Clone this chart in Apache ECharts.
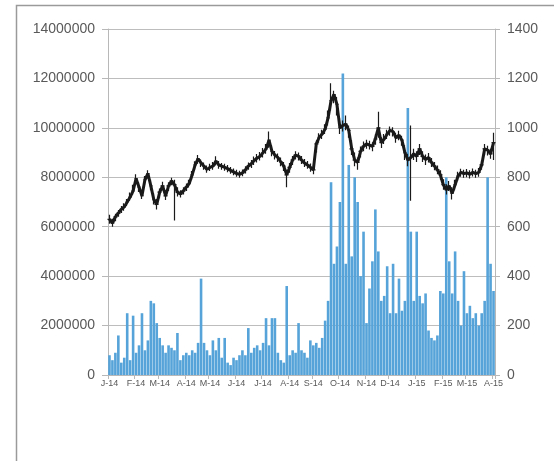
<!DOCTYPE html>
<html>
<head>
<meta charset="utf-8">
<script src="https://cdn.jsdelivr.net/npm/echarts@6/dist/echarts.min.js"></script>
<style>
  html, body { margin: 0; padding: 0; background: #fff; }
  #chart { width: 554px; height: 461px; }
</style>
</head>
<body>
<div id="chart"></div>
<script>
// two samples a week, Jan 2014 - Apr 2015
var volume = [
    800000, 600000, 900000, 1600000, 500000, 700000, 2500000, 600000, 2400000, 900000,
    1200000, 2500000, 1000000, 1400000, 3000000, 2900000, 2100000, 1500000, 1200000, 900000,
    1200000, 1100000, 1000000, 1700000, 600000, 800000, 900000, 800000, 1000000, 900000,
    1300000, 3900000, 1300000, 1000000, 800000, 1400000, 1000000, 1500000, 700000, 1500000,
    500000, 400000, 700000, 600000, 800000, 1000000, 800000, 1900000, 900000, 1100000,
    1200000, 1000000, 1300000, 2300000, 1200000, 2300000, 2300000, 900000, 600000, 500000,
    3600000, 800000, 1000000, 900000, 2100000, 1000000, 900000, 700000, 1400000, 1200000,
    1300000, 1100000, 1500000, 2200000, 3000000, 7800000, 4500000, 5200000, 7000000, 12200000,
    4500000, 8500000, 4800000, 8000000, 7000000, 4000000, 5800000, 2100000, 3500000, 4600000,
    6700000, 5000000, 3000000, 3200000, 4400000, 2500000, 4500000, 2500000, 3900000, 2600000,
    3000000, 10800000, 5800000, 3000000, 5800000, 3200000, 2900000, 3300000, 1800000, 1500000,
    1400000, 1600000, 3400000, 3300000, 8000000, 4600000, 3300000, 5000000, 3000000, 2000000,
    4200000, 2500000, 2800000, 2300000, 2500000, 2000000, 2500000, 3000000, 8000000, 4500000,
    3400000
];

var close = [
    630, 615, 640, 655, 670, 680, 700, 720, 745, 795,
    760, 725, 790, 815, 765, 710, 690, 740, 765, 725,
    765, 785, 770, 740, 732, 745, 760, 775, 810, 850,
    875, 858, 845, 832, 840, 845, 865, 850, 845, 840,
    835, 828, 822, 815, 812, 818, 830, 845, 855, 868,
    878, 885, 900, 915, 950, 905, 890, 880, 862, 845,
    810, 840, 870, 890, 885, 870, 858, 850, 840, 830,
    935, 962, 975, 995, 1040, 1110, 1135, 1095, 1000, 1010,
    1015, 990, 915, 870, 860, 905, 925, 935, 930, 925,
    955, 1000, 940, 955, 975, 990, 985, 960, 970, 950,
    900, 870, 880, 895, 885, 915, 885, 872, 880, 860,
    845, 830, 810, 770, 750, 765, 735, 770, 805, 820,
    815, 818, 812, 820, 815, 820, 850, 915, 910, 895,
    940
];

var low = [
    612, 600, 622, 640, 655, 665, 684, 705, 728, 770,
    740, 712, 770, 795, 748, 690, 670, 715, 748, 708,
    745, 768, 625, 722, 718, 730, 745, 760, 790, 830,
    855, 842, 830, 818, 825, 830, 848, 835, 830, 826,
    820, 814, 808, 802, 798, 804, 815, 830, 838, 850,
    860, 868, 880, 895, 920, 885, 872, 862, 845, 825,
    760, 818, 850, 872, 868, 854, 842, 835, 822, 812,
    900, 940, 955, 975, 1010, 1070, 1100, 1050, 975, 985,
    990, 960, 890, 845, 830, 880, 905, 915, 912, 905,
    932, 960, 918, 935, 955, 968, 965, 940, 950, 928,
    870, 845, 705, 870, 862, 890, 862, 850, 860, 842,
    828, 812, 790, 750, 730, 745, 710, 748, 785, 802,
    798, 800, 795, 803, 798, 802, 830, 890, 888, 875,
    870
];

var high = [
    648, 632, 652, 668, 684, 695, 712, 738, 770, 812,
    780, 748, 805, 828, 790, 735, 712, 755, 782, 748,
    780, 798, 790, 760, 748, 760, 775, 790, 825, 865,
    890, 872, 860, 848, 855, 862, 885, 866, 858, 855,
    850, 842, 836, 830, 826, 832, 845, 860, 870, 884,
    894, 902, 918, 935, 985, 930, 906, 896, 880, 862,
    830, 858, 886, 905, 900, 886, 874, 866, 856, 848,
    950, 978, 992, 1015, 1070, 1180, 1150, 1125, 1040, 1030,
    1050, 1010, 950, 900, 880, 925, 945, 952, 948, 942,
    975, 1065, 962, 975, 992, 1005, 1002, 980, 988, 968,
    930, 895, 1010, 915, 905, 935, 905, 892, 898, 878,
    862, 848, 828, 792, 772, 785, 760, 790, 822, 835,
    830, 834, 828, 836, 830, 838, 868, 935, 928, 915,
    980
];

var monthLetters = 'JFMAMJJASOND';

var days = [];
var d = new Date(2014, 0, 2);
for (var i = 0; i < close.length; i++) {
    days.push(new Date(d.getTime()));
    d.setDate(d.getDate() + (i % 2 === 0 ? 4 : 3));
}
var cats = days.map(function(t){
    return t.getFullYear() + '-' + (t.getMonth() + 1) + '-' + t.getDate();
});

function isMonthStart(idx) {
    if (idx === 0) return true;
    return days[idx].getMonth() !== days[idx - 1].getMonth();
}

var hiLo = close.map(function(c, i){
    return [c, c, low[i], high[i]];
});

var option = {
    backgroundColor: '#fff',
    animation: false,
    textStyle: { fontFamily: 'Liberation Sans' },
    graphic: [{
        type: 'rect',
        shape: { x: 16.5, y: 5.5, width: 600, height: 500 },
        style: { fill: 'none', stroke: '#9a9a9a', lineWidth: 1.5 },
        silent: true
    }],
    grid: {
        left: 108,
        right: 59,
        top: 29,
        bottom: 86
    },
    xAxis: {
        type: 'category',
        data: cats,
        boundaryGap: true,
        axisLine: { lineStyle: { color: '#b8b8b8' } },
        axisTick: {
            show: true,
            interval: function(idx){ return isMonthStart(idx); },
            length: 4,
            lineStyle: { color: '#b8b8b8' }
        },
        axisLabel: {
            interval: function(idx){ return isMonthStart(idx); },
            formatter: function(v, idx){
                var t = days[idx];
                return monthLetters.charAt(t.getMonth()) + '-' + String(t.getFullYear()).slice(2);
            },
            color: '#595959',
            fontSize: 9,
            margin: 4
        },
        splitLine: { show: false }
    },
    yAxis: [
        {
            type: 'value',
            min: 0,
            max: 14000000,
            interval: 2000000,
            axisLine: { show: true, lineStyle: { color: '#b8b8b8' } },
            axisTick: { show: true, length: 6, lineStyle: { color: '#b8b8b8' } },
            axisLabel: {
                color: '#595959',
                fontSize: 14,
                margin: 13,
                formatter: function(v){ return String(v); }
            },
            splitLine: { lineStyle: { color: '#bdbdbd' } }
        },
        {
            type: 'value',
            min: 0,
            max: 1400,
            interval: 200,
            position: 'right',
            axisLine: { show: true, lineStyle: { color: '#b8b8b8' } },
            axisTick: { show: true, length: 5, lineStyle: { color: '#b8b8b8' } },
            axisLabel: {
                color: '#595959',
                fontSize: 14,
                margin: 12,
                formatter: function(v){ return String(v); }
            },
            splitLine: { show: false }
        }
    ],
    series: [
        {
            name: 'Volume',
            type: 'bar',
            yAxisIndex: 0,
            barWidth: 2.6,
            itemStyle: { color: '#55a3d8' },
            data: volume
        },
        {
            name: 'Close',
            type: 'line',
            yAxisIndex: 1,
            showSymbol: false,
            lineStyle: { color: '#1a1a1a', width: 3 },
            data: close,
            z: 3
        },
        {
            name: 'High-Low',
            type: 'candlestick',
            yAxisIndex: 1,
            barWidth: 4,
            itemStyle: {
                color: '#1a1a1a',
                color0: '#1a1a1a',
                borderColor: '#1a1a1a',
                borderColor0: '#1a1a1a',
                borderWidth: 1.2
            },
            data: hiLo,
            z: 4
        }
    ]
};

var myChart = echarts.init(document.getElementById('chart'));
myChart.setOption(option);
</script>
</body>
</html>
